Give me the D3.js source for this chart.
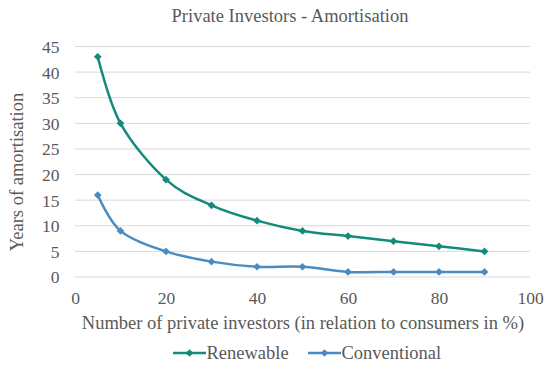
<!DOCTYPE html>
<meta charset="utf-8">
<script src="https://cdn.jsdelivr.net/npm/d3@7"></script>
<style>
  body { margin: 0; background: #fff; }
  .grid line { stroke: #d9d9d9; stroke-width: 1px; }
  path.line { fill: none; stroke-width: 2.5px; }
</style>
<body>
<script>

  // data
  var investors = [5, 10, 20, 30, 40, 50, 60, 70, 80, 90];
  var renewable = [43, 30, 19, 14, 11, 9, 8, 7, 6, 5];
  var conventional = [16, 9, 5, 3, 2, 2, 1, 1, 1, 1];
  var seriesNames = ["Renewable", "Conventional"];
  var seriesColors = ["#148a7c", "#4a8bc2"];
  var xTicks = [0, 20, 40, 60, 80, 100];
  var yTicks = [0, 5, 10, 15, 20, 25, 30, 35, 40, 45];

  var width = 550,
      height = 371,
      font = "'Liberation Serif', 'Times New Roman', serif",
      textColor = "#595959";

  var x = d3.scaleLinear().domain([0, 100]).range([75, 530]);
  var y = d3.scaleLinear().domain([0, 45]).range([277, 46.5]);

  var svg = d3.select("body").append("svg")
      .attr("width", width)
      .attr("height", height);

  // horizontal gridlines
  svg.append("g")
      .attr("class", "grid")
      .selectAll("line")
      .data(yTicks)
      .enter().append("line")
      .attr("x1", x(0))
      .attr("x2", x(100))
      .attr("y1", function(d) { return y(d); })
      .attr("y2", function(d) { return y(d); });

  // y axis labels
  var yAxis = svg.append("g")
      .attr("transform", "translate(" + (x(0) - 15.5) + ",0)")
      .call(d3.axisLeft(y).tickValues(yTicks).tickSize(0).tickPadding(0));
  yAxis.select(".domain").remove();
  yAxis.selectAll("text")
      .attr("fill", textColor)
      .attr("dy", "0.34em")
      .style("font-family", font)
      .style("font-size", "17.5px");

  // x axis labels
  var xAxis = svg.append("g")
      .attr("transform", "translate(0," + (y(0) + 14.5) + ")")
      .call(d3.axisBottom(x).tickValues(xTicks).tickSize(0).tickPadding(0));
  xAxis.select(".domain").remove();
  xAxis.selectAll("text")
      .attr("fill", textColor)
      .style("font-family", font)
      .style("font-size", "17.5px");

  // lines
  var seriesData = [renewable, conventional].map(function(vals, i) {
    return {
      name: seriesNames[i],
      color: seriesColors[i],
      points: investors.map(function(v, j) { return [v, vals[j]]; })
    };
  });

  var line = d3.line()
      .x(function(d) { return x(d[0]); })
      .y(function(d) { return y(d[1]); })
      .curve(d3.curveCardinal.tension(0));

  // square diamond like the spreadsheet marker
  var diamond = d3.symbol().type(d3.symbolDiamond2).size(38);

  seriesData.forEach(function(s) {
    svg.append("path")
        .attr("class", "line")
        .attr("d", line(s.points))
        .style("stroke", s.color);

    svg.append("g")
        .selectAll("path")
        .data(s.points)
        .enter().append("path")
        .attr("d", diamond)
        .attr("transform", function(d) { return "translate(" + x(d[0]) + "," + y(d[1]) + ")"; })
        .style("fill", s.color);
  });

  function label(t, size) {
    return t.attr("fill", textColor)
        .style("font-family", font)
        .style("font-size", size + "px");
  }

  // title
  label(svg.append("text"), 18.5)
      .attr("x", 290)
      .attr("y", 22)
      .attr("text-anchor", "middle")
      .text("Private Investors - Amortisation");

  // axis titles
  label(svg.append("text"), 18.5)
      .attr("x", 303)
      .attr("y", 329)
      .attr("text-anchor", "middle")
      .text("Number of private investors (in relation to consumers in %)");

  label(svg.append("text"), 18.5)
      .attr("transform", "translate(23,172) rotate(-90)")
      .attr("text-anchor", "middle")
      .text("Years of amortisation");

  // legend
  var legend = svg.append("g")
      .selectAll("g")
      .data(seriesData)
      .enter().append("g")
      .attr("transform", function(d, i) { return "translate(" + (i == 0 ? 173 : 308) + ",353)"; });

  legend.append("line")
      .attr("x1", 0)
      .attr("x2", 33)
      .style("stroke", function(d) { return d.color; })
      .style("stroke-width", 2.5);

  legend.append("path")
      .attr("d", diamond)
      .attr("transform", "translate(16.5,0)")
      .style("fill", function(d) { return d.color; });

  label(legend.append("text"), 18.5)
      .attr("x", 33.5)
      .attr("y", 6)
      .text(function(d) { return d.name; });

</script>
</body>
